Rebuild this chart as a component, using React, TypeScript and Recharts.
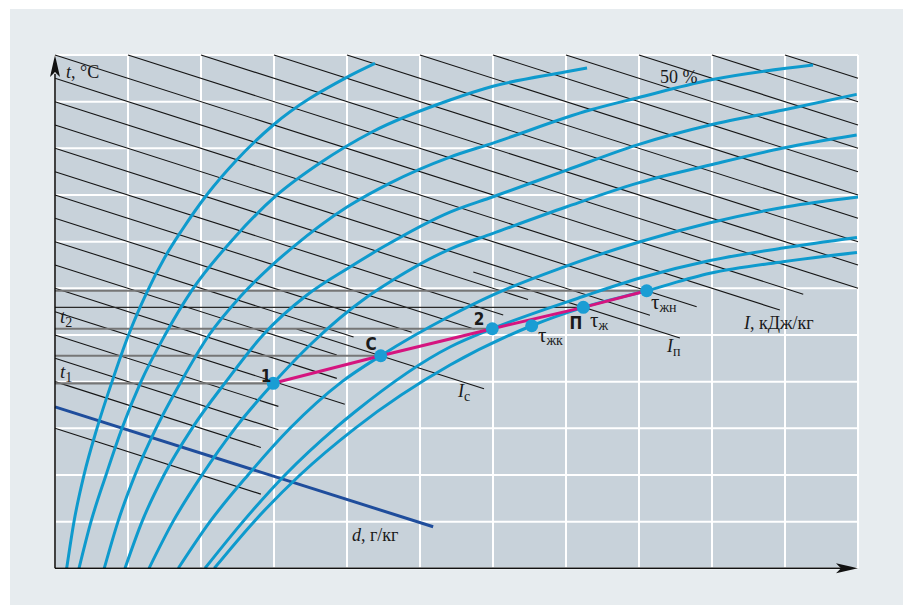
import React from "react";
import { ComposedChart, XAxis, YAxis, CartesianGrid, Line, Scatter } from "recharts";

// grid: d along x, t along y, both in grid steps
const gridTicks = [0, 1, 2, 3, 4, 5, 6, 7, 8, 9, 10, 11];

// relative humidity curves, [d, t] pairs (leftmost first, last = 100 %)
const phiCurve1 = [[0.16, 0], [0.26, 1], [0.397, 2], [0.575, 3], [0.781, 4], [1.007, 5], [1.26, 5.92], [1.507, 6.67], [1.74, 7.25], [2.078, 8], [2.489, 8.75], [2.99, 9.5], [3.996, 10.52], [4.384, 10.82]];
const phiCurve2 = [[0.329, 0], [0.493, 1], [0.699, 2], [0.918, 3], [1.178, 4], [1.507, 5], [1.877, 5.96], [2.466, 7.1], [3.041, 8], [3.63, 8.685], [4.342, 9.35], [5.411, 10.035], [6, 10.33], [6.986, 10.634], [7.288, 10.72]];
const phiCurve3 = [[0.675, 0], [0.863, 1], [1.096, 2], [1.384, 3], [1.726, 4], [2.11, 5], [2.534, 5.813], [2.945, 6.456], [3.26, 6.884], [4.0, 7.742], [4.589, 8.256], [5.411, 8.813], [6, 9.113], [7.329, 9.82], [7.973, 10.08], [8.973, 10.463], [10.384, 10.784]];
const phiCurve4 = [[0.959, 0], [1.192, 1], [1.493, 2], [1.877, 3], [2.342, 4], [2.849, 5], [3.452, 5.856], [4.041, 6.456], [4.493, 6.884], [5.411, 7.634], [6, 7.962], [7.01, 8.534], [7.968, 9.07], [8.973, 9.499], [9.977, 9.82], [10.982, 10.157]];
const phiCurve5 = [[1.288, 0], [1.616, 1], [2.014, 2], [2.466, 3], [2.99, 3.964], [3.521, 4.828], [4.274, 5.813], [4.63, 6.178], [5.411, 6.842], [6, 7.178], [7.01, 7.748], [7.968, 8.249], [8.973, 8.642], [9.977, 9.006], [10.982, 9.284]];
const phiCurve6 = [[1.689, 0], [2.123, 1], [2.644, 2], [3.219, 3], [3.932, 4], [4.462, 4.555], [5.411, 5.406], [6, 5.86], [6.918, 6.428], [8.014, 6.998], [8.973, 7.405], [10.027, 7.748], [11, 7.956]];
const phiCurve7 = [[2.055, 0], [2.575, 1], [3.151, 2], [3.836, 3], [4.11, 3.355], [5.411, 4.742], [5.99, 5.134], [7.233, 5.824], [8.014, 6.22], [8.973, 6.595], [9.973, 6.863], [10.986, 7.088]];
const phiCurve8 = [[2.182, 0], [2.726, 1], [3.356, 2], [4.11, 3], [5.411, 4.356], [6.53, 5.198], [7.237, 5.592], [8.105, 5.948], [8.973, 6.321], [9.973, 6.57], [10.986, 6.767]];
const phiCurves = [phiCurve1, phiCurve2, phiCurve3, phiCurve4, phiCurve5, phiCurve6, phiCurve7, phiCurve8];

// lines of constant enthalpy: t = I - slope * d, [I, d from, d to]
const enthalpySlope = 0.5;
const enthalpyLines = [
  [16, 10, 11], [15.5, 9, 11], [15, 8, 11], [14.5, 7, 11], [14, 6, 11],
  [13.5, 5, 11], [13, 4, 11], [12.5, 3, 11], [12, 2, 11], [11.5, 1, 11],
  [11, 0, 10.25], [10.5, 0, 9.93], [10, 0, 8.79], [9.5, 0, 8.15], [9, 0, 6.48],
  [8.5, 0, 6.14], [8, 0, 5.75], [7.5, 0, 4.886], [7, 0, 4.09], [6.5, 0, 3.86],
  [6, 0, 3.86], [5.5, 0, 3.97], [5, 0, 3.06], [4.5, 0, 3.06], [4, 0, 2.82], [3, 0, 2.82],
  [6.785, 3.31, 5.877], // I_c
  [9.215, 5.73, 8.56], // I_п
];

// d = const line
const moistureLine = [[0, 3.46], [5.18, 0.89]];

// state points: 1, С, 2, τжк, П, τжн
const pointNames = ["1", "С", "2", "τжк", "П", "τжн"];
const pointD = [2.99, 4.462, 5.99, 6.53, 7.237, 8.105];
const pointT = [3.964, 4.555, 5.134, 5.198, 5.592, 5.948];
const processOrder = ["1", "С", "2", "П", "τжн"];

// horizontal isotherms from the t axis to a point: [t, d to, heavy]
const isotherms = [
  [5.948, 8.105, 1],
  [5.592, 7.237, 0],
  [5.134, 5.99, 1],
  [4.555, 4.462, 1],
  [3.964, 2.99, 1],
];

const annotations = [
  { id: "tAxis", x: 0.151, y: 10.506 },
  { id: "phi", x: 8.288, y: 10.4 },
  { id: "t2", x: 0.068, y: 5.256 },
  { id: "t1", x: 0.068, y: 4.077 },
  { id: "n1", x: 2.89, y: 3.998 },
  { id: "nC", x: 4.329, y: 4.677 },
  { id: "n2", x: 5.808, y: 5.213 },
  { id: "nP", x: 7.137, y: 5.138 },
  { id: "tauZh", x: 7.329, y: 5.17 },
  { id: "tauZhk", x: 6.616, y: 4.849 },
  { id: "tauZhn", x: 8.164, y: 5.556 },
  { id: "Ip", x: 8.384, y: 4.635 },
  { id: "Ic", x: 5.521, y: 3.671 },
  { id: "Iunit", x: 9.438, y: 5.127 },
  { id: "dunit", x: 4.068, y: 0.585 },
];

const axisArrows = [
  { x: 0, y: 11, dir: "up" },
  { x: 11, y: 0, dir: "right" },
];

const BLUE = "#0e9acd";
const PINK = "#d5147f";
const NAVY = "#1f4d9c";
const serif = "'Liberation Serif', 'Times New Roman', serif";
const narrow = "'Liberation Sans Narrow', 'DejaVu Sans Condensed', 'Arial Narrow', sans-serif";

const toRows = (pts: number[][]) => pts.map(([x, y]) => ({ x, y }));

const Arrow = (props: any) => {
  const { cx, cy, payload } = props;
  const d =
    payload.dir === "up"
      ? `M${cx},${cy} L${cx - 5},${cy + 22} L${cx},${cy + 17} L${cx + 5},${cy + 22} Z`
      : `M${cx},${cy} L${cx - 22},${cy - 5} L${cx - 17},${cy} L${cx - 22},${cy + 5} Z`;
  return <path d={d} fill="#111" />;
};

const Dot = (props: any) => <circle cx={props.cx} cy={props.cy} r={6.5} fill="#1a9dd4" />;

const sub = (s: string, size = 14, dy = 4) => (
  <tspan fontSize={size} dy={dy}>
    {s}
  </tspan>
);

const Note = (props: any) => {
  const { cx, cy, payload } = props;
  const base = { x: cx, y: cy, fontFamily: serif, fill: "#1a1a1a", fontSize: 18 };
  const bold = { x: cx, y: cy, fontFamily: narrow, fontWeight: 700, fontSize: 17, fill: "#1a1a1a", textAnchor: "middle" as const };
  switch (payload.id) {
    case "tAxis":
      return (
        <text {...base}>
          <tspan fontStyle="italic">t</tspan>, °C
        </text>
      );
    case "phi":
      return <text {...base}>50 %</text>;
    case "t2":
      return (
        <text {...base} fontSize={19}>
          <tspan fontStyle="italic">t</tspan>
          {sub("2", 14, 4)}
        </text>
      );
    case "t1":
      return (
        <text {...base} fontSize={19}>
          <tspan fontStyle="italic">t</tspan>
          {sub("1", 14, 4)}
        </text>
      );
    case "n1":
      return <text {...bold}>1</text>;
    case "nC":
      return <text {...bold}>С</text>;
    case "n2":
      return <text {...bold}>2</text>;
    case "nP":
      return <text {...bold}>П</text>;
    case "tauZh":
      return (
        <text {...base} fontSize={21}>
          τ{sub("ж", 14, 3)}
        </text>
      );
    case "tauZhk":
      return (
        <text {...base} fontSize={21}>
          τ{sub("жк", 14, 3)}
        </text>
      );
    case "tauZhn":
      return (
        <text {...base} fontSize={21}>
          τ{sub("жн", 14, 3)}
        </text>
      );
    case "Ip":
      return (
        <text {...base}>
          <tspan fontStyle="italic">I</tspan>
          {sub("п", 14, 4)}
        </text>
      );
    case "Ic":
      return (
        <text {...base}>
          <tspan fontStyle="italic">I</tspan>
          {sub("с", 14, 4)}
        </text>
      );
    case "Iunit":
      return (
        <text {...base}>
          <tspan fontStyle="italic">I</tspan>, кДж/кг
        </text>
      );
    case "dunit":
      return (
        <text {...base}>
          <tspan fontStyle="italic">d</tspan>, г/кг
        </text>
      );
    default:
      return null;
  }
};

export default function App() {
  const points = pointNames.map((name, i) => ({ name, x: pointD[i], y: pointT[i] }));
  const processRows = processOrder.map((n) => points.find((p) => p.name === n)!);
  const lineProps = {
    dataKey: "y",
    dot: false,
    activeDot: false,
    isAnimationActive: false,
    legendType: "none" as const,
  };

  return (
    <div style={{ position: "absolute", left: 0, top: 0, width: 903, height: 605, background: "#ffffff" }}>
      <div style={{ position: "absolute", left: 10, top: 9, width: 893, height: 596, background: "#e7ecef" }} />
      <div style={{ position: "absolute", left: 0, top: 0 }}>
        <ComposedChart width={903} height={605} margin={{ top: 55, right: 45, bottom: 36.7, left: 55 }}>
          <CartesianGrid stroke="#ffffff" strokeWidth={2} fill="#c8d2da" fillOpacity={1} />
          <XAxis type="number" dataKey="x" domain={[0, 11]} ticks={gridTicks} hide />
          <YAxis type="number" domain={[0, 11]} ticks={gridTicks} hide />

          {enthalpyLines.map(([c, a, b], i) => (
            <Line
              key={`i${i}`}
              {...lineProps}
              type="linear"
              data={[
                { x: a, y: c - enthalpySlope * a },
                { x: b, y: c - enthalpySlope * b },
              ]}
              stroke="#151515"
              strokeWidth={1.1}
            />
          ))}

          {isotherms.map(([t, to, heavy], i) => (
            <Line
              key={`t${i}`}
              {...lineProps}
              type="linear"
              data={[
                { x: 0, y: t },
                { x: to, y: t },
              ]}
              stroke={heavy ? "#767676" : "#2a2a2a"}
              strokeWidth={heavy ? 2.2 : 1.1}
            />
          ))}

          <Line {...lineProps} type="linear" data={toRows(moistureLine)} stroke={NAVY} strokeWidth={3} />

          {phiCurves.map((c, i) => (
            <Line key={`phi${i}`} {...lineProps} type="monotone" data={toRows(c)} stroke={BLUE} strokeWidth={3} />
          ))}

          <Line {...lineProps} type="linear" data={processRows} stroke={PINK} strokeWidth={3} />

          <Line {...lineProps} type="linear" data={[{ x: 0, y: 0 }, { x: 0, y: 10.6 }]} stroke="#111" strokeWidth={1.6} />
          <Line {...lineProps} type="linear" data={[{ x: 0, y: 0 }, { x: 10.8, y: 0 }]} stroke="#111" strokeWidth={1.6} />

          <Scatter data={axisArrows} dataKey="y" shape={Arrow} isAnimationActive={false} legendType="none" />
          <Scatter data={points} dataKey="y" shape={Dot} isAnimationActive={false} legendType="none" />
          <Scatter data={annotations} dataKey="y" shape={Note} isAnimationActive={false} legendType="none" />
        </ComposedChart>
      </div>
    </div>
  );
}
